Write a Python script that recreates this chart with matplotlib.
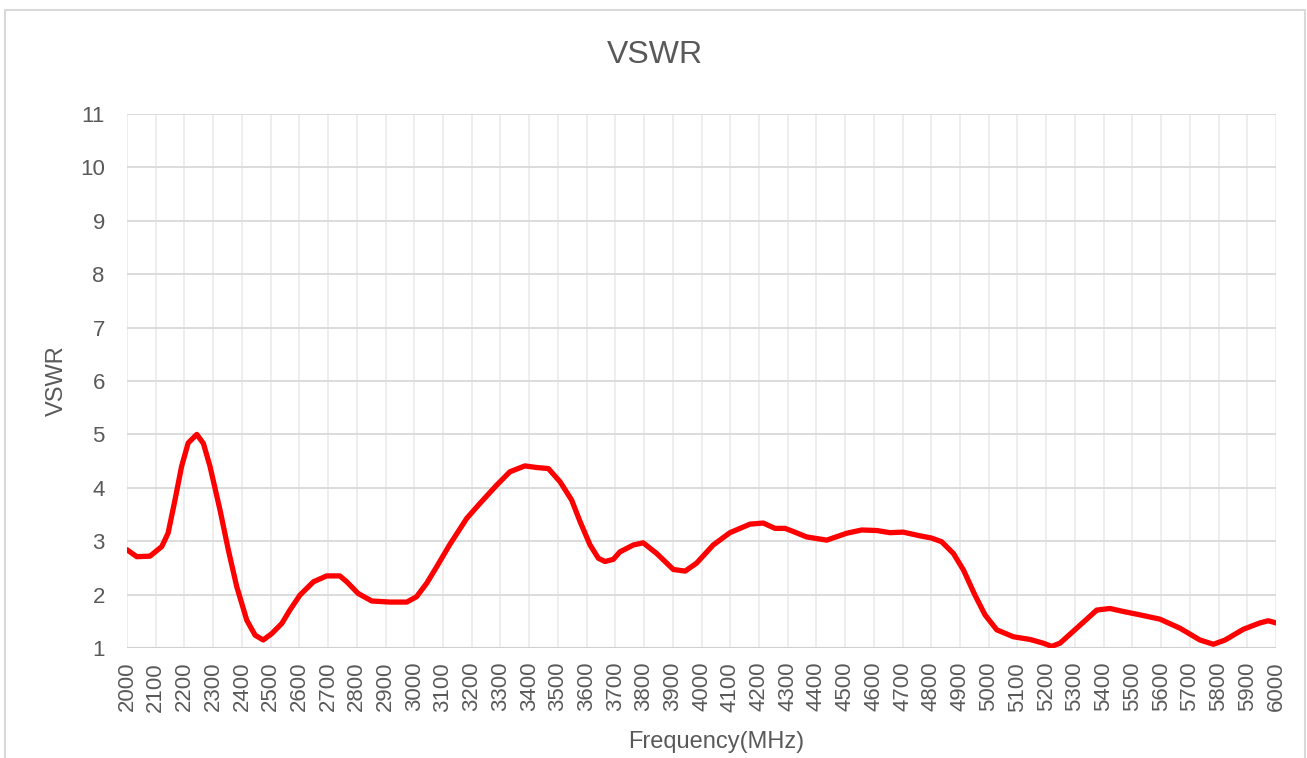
import matplotlib.pyplot as plt
from matplotlib.patches import Rectangle

# Frequency (MHz) and VSWR
freq = [2000, 2034, 2080, 2121, 2143, 2167, 2190, 2213, 2243, 2266, 2289, 2324,
        2353, 2382, 2417, 2446, 2474, 2504, 2539, 2567, 2602, 2649, 2695, 2741,
        2765, 2805, 2852, 2916, 2974, 3008, 3043, 3078, 3124, 3183, 3229, 3287,
        3333, 3385, 3426, 3467, 3508, 3548, 3577, 3612, 3641, 3664, 3693, 3716,
        3763, 3797, 3844, 3902, 3943, 3983, 4041, 4099, 4169, 4215, 4256, 4291,
        4320, 4366, 4436, 4506, 4558, 4610, 4656, 4702, 4761, 4800, 4836, 4877,
        4912, 4952, 4987, 5028, 5086, 5144, 5190, 5219, 5248, 5306, 5376, 5422,
        5463, 5527, 5596, 5666, 5735, 5782, 5823, 5886, 5944, 5973, 6000]
vswr = [2.84, 2.71, 2.72, 2.90, 3.15, 3.77, 4.40, 4.84, 5.00, 4.83, 4.40, 3.58,
        2.83, 2.15, 1.52, 1.24, 1.15, 1.27, 1.46, 1.71, 1.99, 2.24, 2.35, 2.35,
        2.24, 2.02, 1.88, 1.86, 1.86, 1.96, 2.21, 2.52, 2.94, 3.43, 3.71, 4.05,
        4.30, 4.41, 4.38, 4.36, 4.11, 3.77, 3.37, 2.93, 2.68, 2.62, 2.66, 2.80,
        2.93, 2.97, 2.77, 2.47, 2.44, 2.59, 2.93, 3.16, 3.32, 3.34, 3.24, 3.24,
        3.18, 3.08, 3.02, 3.15, 3.21, 3.20, 3.16, 3.17, 3.10, 3.06, 2.99, 2.77,
        2.46, 1.99, 1.62, 1.34, 1.21, 1.16, 1.09, 1.03, 1.09, 1.37, 1.71, 1.74,
        1.69, 1.62, 1.54, 1.37, 1.15, 1.07, 1.15, 1.35, 1.47, 1.51, 1.47]

xticks = list(range(2000, 6001, 100))
yticks = list(range(1, 12))

txt = '#595959'
plt.rcParams['font.family'] = ['Liberation Sans', 'DejaVu Sans']

fig = plt.figure(figsize=(13.07, 7.58), dpi=100)
fig.patches.append(Rectangle((5 / 1307, -0.1), 1300 / 1307, 1.087, transform=fig.transFigure,
                             fill=False, edgecolor='#D9D9D9', linewidth=1.5))
ax = fig.add_axes([127 / 1307, 1 - 648 / 758, 1149 / 1307, 534 / 758])

ax.plot(freq, vswr, color='#FF0000', linewidth=3.8, solid_capstyle='round',
        solid_joinstyle='round', zorder=3)

ax.set_xlim(2000, 6000)
ax.set_ylim(1, 11)
ax.set_xticks(xticks)
ax.set_xticklabels([str(t) for t in xticks], rotation=90)
ax.set_yticks(yticks)

for t in xticks:
    ax.axvline(t, color='#EDEDED', linewidth=1.3, zorder=1)
for t in yticks:
    ax.axhline(t, color='#D9D9D9', linewidth=1.3, zorder=1)

for s in ax.spines.values():
    s.set_visible(False)
ax.axhline(1, color='#D0D0D0', linewidth=1.5, zorder=2)

ax.tick_params(axis='both', length=0, colors=txt, labelsize=16)
ax.tick_params(axis='y', pad=16)
ax.tick_params(axis='x', pad=10)

# titles placed like the Excel original
fig.text(655 / 1307, 1 - 55 / 758, 'VSWR', fontsize=23, color=txt, ha='center', va='center')
fig.text(57 / 1307, 1 - 381 / 758, 'VSWR', fontsize=17, color=txt, ha='center', va='center',
         rotation=90)
fig.text(716 / 1307, 1 - 742 / 758, 'Frequency(MHz)', fontsize=17, color=txt,
         ha='center', va='center')

fig.savefig('out.png', dpi=100)
